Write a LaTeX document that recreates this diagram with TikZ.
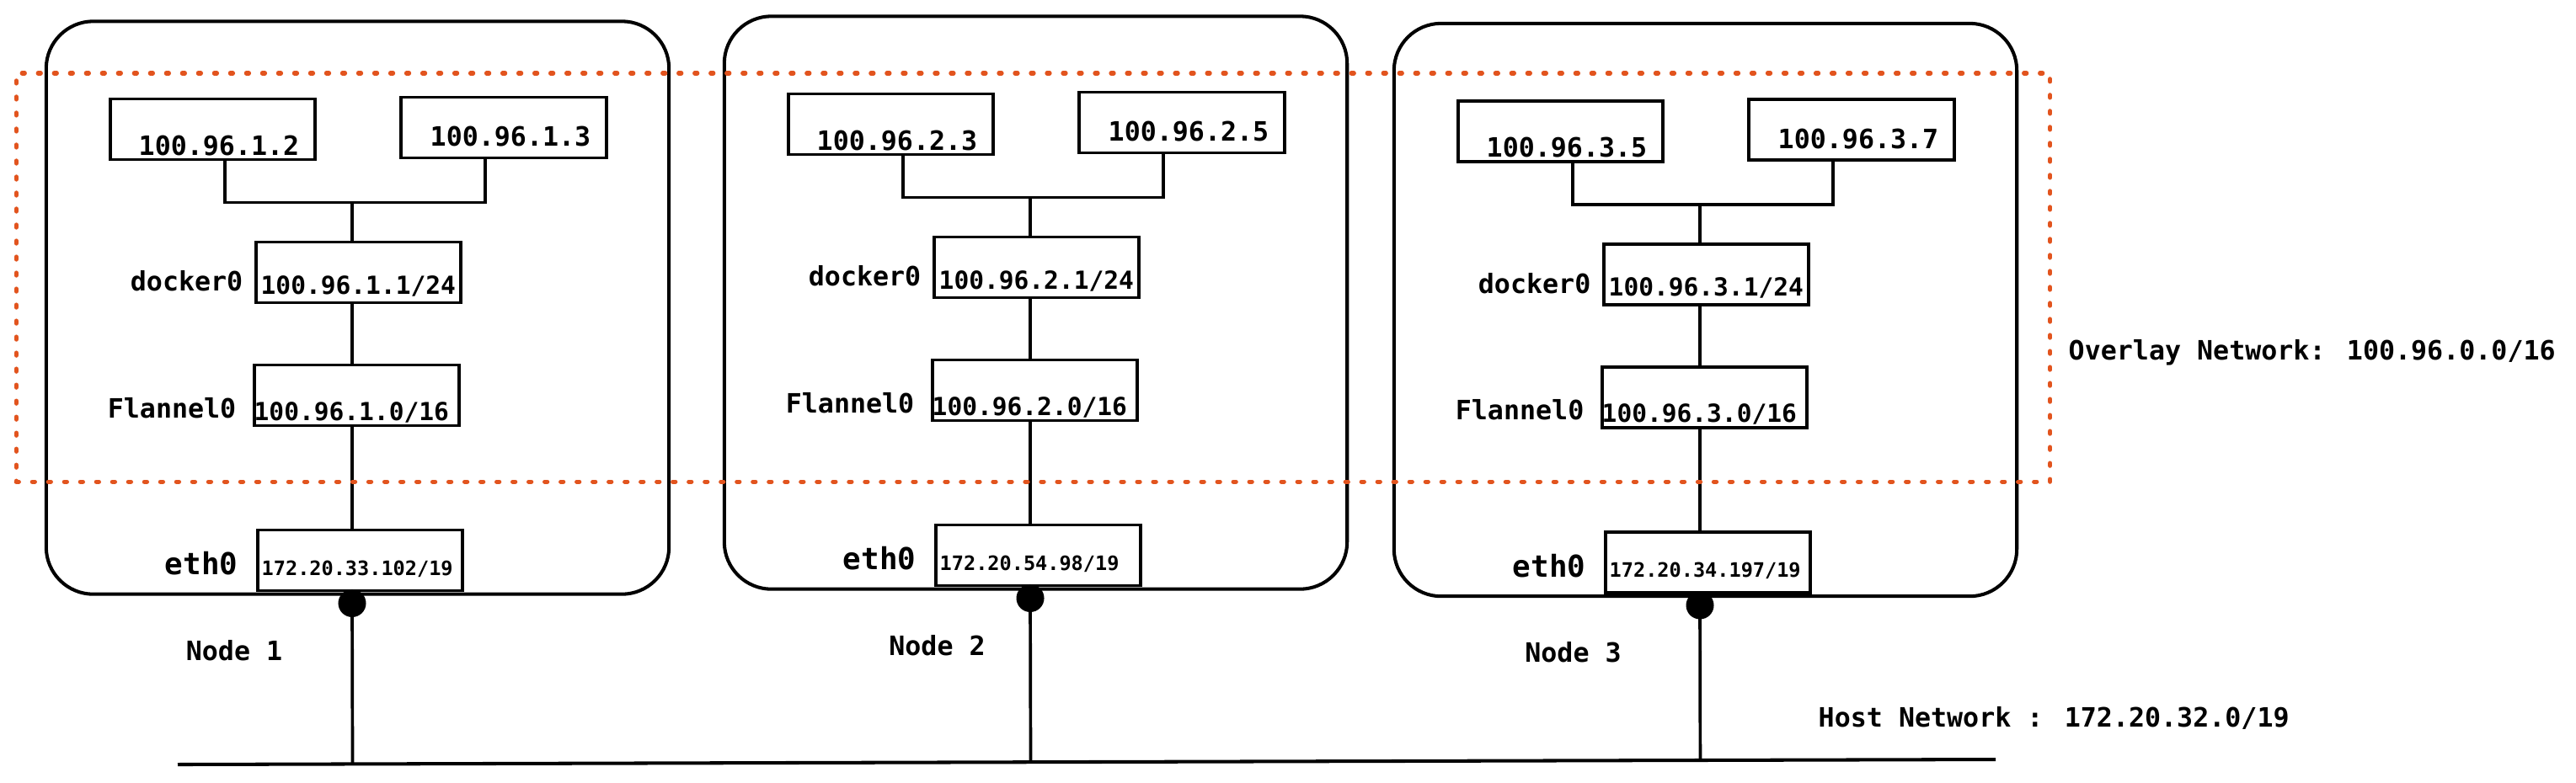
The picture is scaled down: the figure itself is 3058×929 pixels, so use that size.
\documentclass[tikz,border=0pt]{standalone}
\usepackage{fontspec}
\newfontfamily\dvm{DejaVu Sans Mono}
\usetikzlibrary{calc}
\definecolor{ovred}{RGB}{226,84,30}
\newcommand\fsz[1]{\fontsize{#1}{#1}\selectfont}
\tikzset{
  hostbox/.style={draw, line width=1.15pt, rounded corners=0.56cm, minimum width=7.39cm, minimum height=6.8cm, inner sep=0},
  ipbox/.style={draw, line width=1.1pt, minimum width=2.43cm, minimum height=0.72cm, inner sep=0},
  conn/.style={line width=1.05pt},
  hostline/.style={line width=1.15pt},
  dotnode/.style={circle, fill=black, minimum size=0.33cm, inner sep=0},
  txt/.style={inner sep=0, font=\dvm\bfseries\fsz{9}},
  iptxt/.style={inner sep=0, font=\dvm\bfseries\fsz{8.4}},
  ethtxt/.style={inner sep=0, font=\dvm\bfseries\fsz{6.7}},
  ethlbl/.style={inner sep=0, font=\dvm\bfseries\fsz{10.2}},
  ovlbox/.style={draw=ovred, line width=1.5pt, line cap=round, dash pattern=on 0.03cm off 0.16cm, minimum width=24.13cm, minimum height=4.85cm, inner sep=0}
}
% #1 id, #2 x0, #3 y0, #4 A, #5 B, #6 docker ip, #7 flannel ip, #8 eth ip, #9 node label x
\newcommand\hostblock[9]{%
\begin{scope}[shift={(#2,#3)}]
  \node[hostbox] (n#1) at (369.5,340) {};
  \node[ipbox] (a#1) at (197.5,128) {};
  \node[ipbox, minimum width=2.44cm] (b#1) at (543,126) {};
  \node[ipbox] (d#1) at (370.5,298) {};
  \node[ipbox] (f#1) at (368.5,444) {};
  \node[ipbox] (e#1) at (372.5,640) {};
  \node[txt, anchor=west] (ta#1) at (109,147.5) {#4};
  \node[txt, anchor=west] (tb#1) at (455,137) {#5};
  \node[iptxt, anchor=west] (td#1) at (254,314) {#6};
  \node[iptxt, anchor=west] (tf#1) at (246,464) {#7};
  \node[ethtxt, anchor=west] (te#1) at (255,650) {#8};
  \node[txt, anchor=east] (ld#1) at (234,308.5) {docker0};
  \node[txt, anchor=east] (lf#1) at (226,459) {Flannel0};
  \node[ethlbl, anchor=east] (le#1) at (228,644) {eth0};
  \node[txt] (ln#1) at (#9,747) {Node #1};
  \coordinate (j#1) at (363,215);
  \draw[conn] ([xshift=1.38cm]a#1.south west) |- (j#1) -| ([xshift=1.02cm]b#1.south west);
  \draw[conn] (j#1) -- (d#1.north -| j#1);
  \draw[conn] (d#1.south -| j#1) -- (f#1.north -| j#1);
  \draw[conn] (f#1.south -| j#1) -- (e#1.north -| j#1);
  \node[dotnode] (p#1) at ($(e#1.south -| j#1)+(0,13)$) {};
  \draw[conn] (p#1.center) -- ($(h0)!(p#1.center)!(h1)$);
\end{scope}}
\begin{document}
\begin{tikzpicture}[x=0.01cm, y=-0.01cm]
\fill[white] (0,0) rectangle (3058,929);
\useasboundingbox (0,0) rectangle (3058,929);
\coordinate (h0) at (211,908);
\coordinate (h1) at (2369,902);
\draw[hostline] (h0) -- (h1);
\hostblock{1}{55}{25.5}{100.96.1.2}{100.96.1.3}{100.96.1.1/24}{100.96.1.0/16}{172.20.33.102/19}{223}
\hostblock{2}{860}{19.5}{100.96.2.3}{100.96.2.5}{100.96.2.1/24}{100.96.2.0/16}{172.20.54.98/19}{252.5}
\hostblock{3}{1655}{28}{100.96.3.5}{100.96.3.7}{100.96.3.1/24}{100.96.3.0/16}{172.20.34.197/19}{212.5}
\node[ovlbox] (ov) at (1226.5,329.5) {};
\node[txt, anchor=west] (ovt) at (2455,419) {Overlay Network: 100.96.0.0/16};
\node[txt, anchor=west] (hnt) at (2158,853) {Host Network : 172.20.32.0/19};
\end{tikzpicture}
\end{document}
